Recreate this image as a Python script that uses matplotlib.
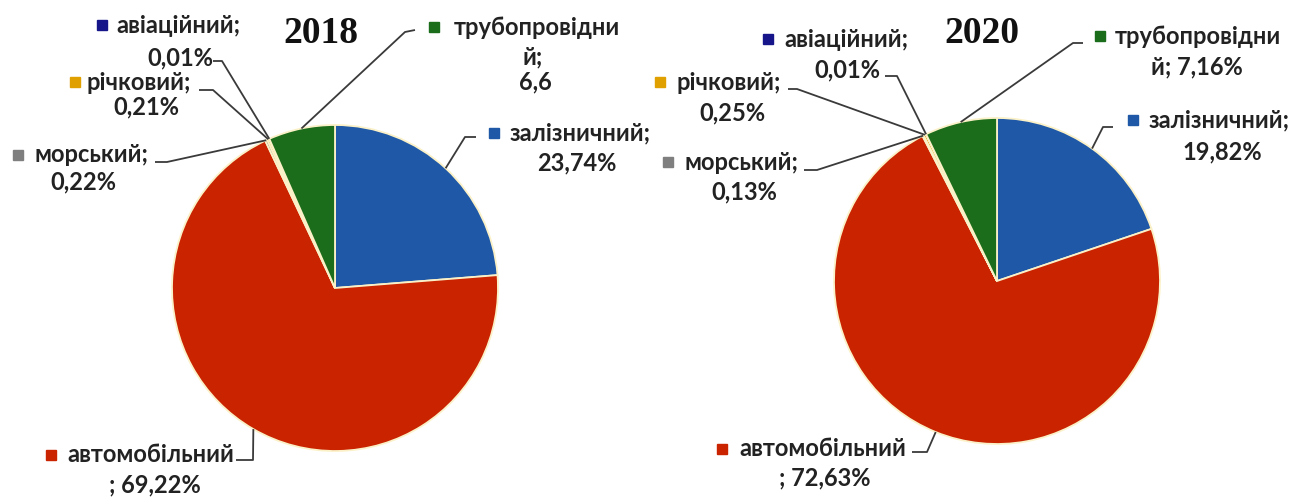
import math
import matplotlib
matplotlib.use('Agg')
import matplotlib.pyplot as plt

categories = ['залізничний', 'автомобільний', 'морський', 'річковий', 'авіаційний', 'трубопровідний']
shares_2018 = [23.74, 69.22, 0.22, 0.21, 0.01, 6.6]
shares_2020 = [19.82, 72.63, 0.13, 0.25, 0.01, 7.16]
value_text_2018 = ['23,74%', '69,22%', '0,22%', '0,21%', '0,01%', '6,6']
value_text_2020 = ['19,82%', '72,63%', '0,13%', '0,25%', '0,01%', '7,16%']
years = ['2018', '2020']

colors = ['#1f58a6', '#c92300', '#7f7f7f', '#e0a100', '#16168a', '#1b6d1b']

W, H = 1308, 499
SANS = ['Lato', 'DejaVu Sans']
FS = 17
TXT = '#222222'
LINE = '#3a3a3a'


def label_lines(name, val, style):
    if style == 'semi':
        return [name, '; ' + val]
    if style == 'wrap3':
        return [name[:-1], name[-1] + ';', val]
    if style == 'wrap2':
        return [name[:-1], name[-1] + '; ' + val]
    return [name + ';', val]


# layout in pixels: marker, first line left x/y, other line centres, leader elbow, leader end
layout_2018 = [
    dict(style='plain', mk=(494, 133), l1=(510, 133), rest=[(577, 163)], elbow=(465, 137), end=(476, 137)),
    dict(style='semi', mk=(51, 455), l1=(67, 455), rest=[(155, 485)], elbow=(253, 460), end=(236, 460)),
    dict(style='plain', mk=(18, 155), l1=(34, 155), rest=[(83, 182)], elbow=(167, 162), end=(155, 162)),
    dict(style='plain', mk=(75, 82), l1=(87, 82), rest=[(146, 107)], elbow=(213, 90), end=(199, 90)),
    dict(style='plain', mk=(102, 25), l1=(116, 25), rest=[(180, 58)], elbow=(222, 61), end=(213, 61)),
    dict(style='wrap3', mk=(434, 27), l1=(454, 27), rest=[(533, 57), (535, 82)], elbow=(405, 32), end=(415, 30)),
]
layout_2020 = [
    dict(style='plain', mk=(1133, 120), l1=(1149, 120), rest=[(1222, 152)], elbow=(1103, 127), end=(1113, 127)),
    dict(style='semi', mk=(722, 449), l1=(739, 449), rest=[(825, 478)], elbow=(927, 452), end=(912, 452)),
    dict(style='plain', mk=(668, 162), l1=(685, 162), rest=[(744, 192)], elbow=(817, 170), end=(804, 170)),
    dict(style='plain', mk=(660, 82), l1=(677, 82), rest=[(732, 113)], elbow=(797, 89), end=(788, 89)),
    dict(style='plain', mk=(768, 39), l1=(784, 39), rest=[(847, 70)], elbow=(897, 76), end=(885, 76)),
    dict(style='wrap2', mk=(1100, 36), l1=(1115, 36), rest=[(1197, 67)], elbow=(1073, 43), end=(1083, 43)),
]

pies = [
    dict(shares=shares_2018, vals=value_text_2018, center=(335, 288), r=163,
         title_xy=(321, 33), layout=layout_2018),
    dict(shares=shares_2020, vals=value_text_2020, center=(997, 281), r=163,
         title_xy=(982, 33), layout=layout_2020),
]

fig = plt.figure(figsize=(W / 100, H / 100), dpi=100)
ax = fig.add_axes([0, 0, 1, 1])

for year, p in zip(years, pies):
    # y axis is inverted below, so counterclock=True runs clockwise on screen
    wedges, _ = ax.pie(p['shares'], colors=colors, center=p['center'], radius=p['r'],
                       startangle=-90, counterclock=True,
                       wedgeprops=dict(edgecolor='#fbf1c8', linewidth=1.3))
    ax.text(*p['title_xy'], year, ha='center', va='center', fontsize=27,
            fontweight='bold', family='Liberation Serif', color='#111111')

    for w, name, val, c, lay in zip(wedges, categories, p['vals'], colors, p['layout']):
        a = math.radians((w.theta1 + w.theta2) / 2)
        x0 = w.center[0] + w.r * math.cos(a)
        y0 = w.center[1] + w.r * math.sin(a)
        ax.plot([x0, lay['elbow'][0], lay['end'][0]],
                [y0, lay['elbow'][1], lay['end'][1]],
                color=LINE, lw=1.3, solid_capstyle='butt')
        ax.plot(*lay['mk'], marker='s', ms=6.5, color=c, mec=c)
        lines = label_lines(name, val, lay['style'])
        ax.text(*lay['l1'], lines[0], ha='left', va='center', fontsize=FS,
                fontweight='bold', family=SANS, color=TXT)
        for (x, y), t in zip(lay['rest'], lines[1:]):
            ax.text(x, y, t, ha='center', va='center', fontsize=FS,
                    fontweight='bold', family=SANS, color=TXT)

ax.set_xlim(0, W)
ax.set_ylim(H, 0)
ax.set_aspect('equal')
ax.axis('off')

fig.savefig('out.png', dpi=100, facecolor='white')
